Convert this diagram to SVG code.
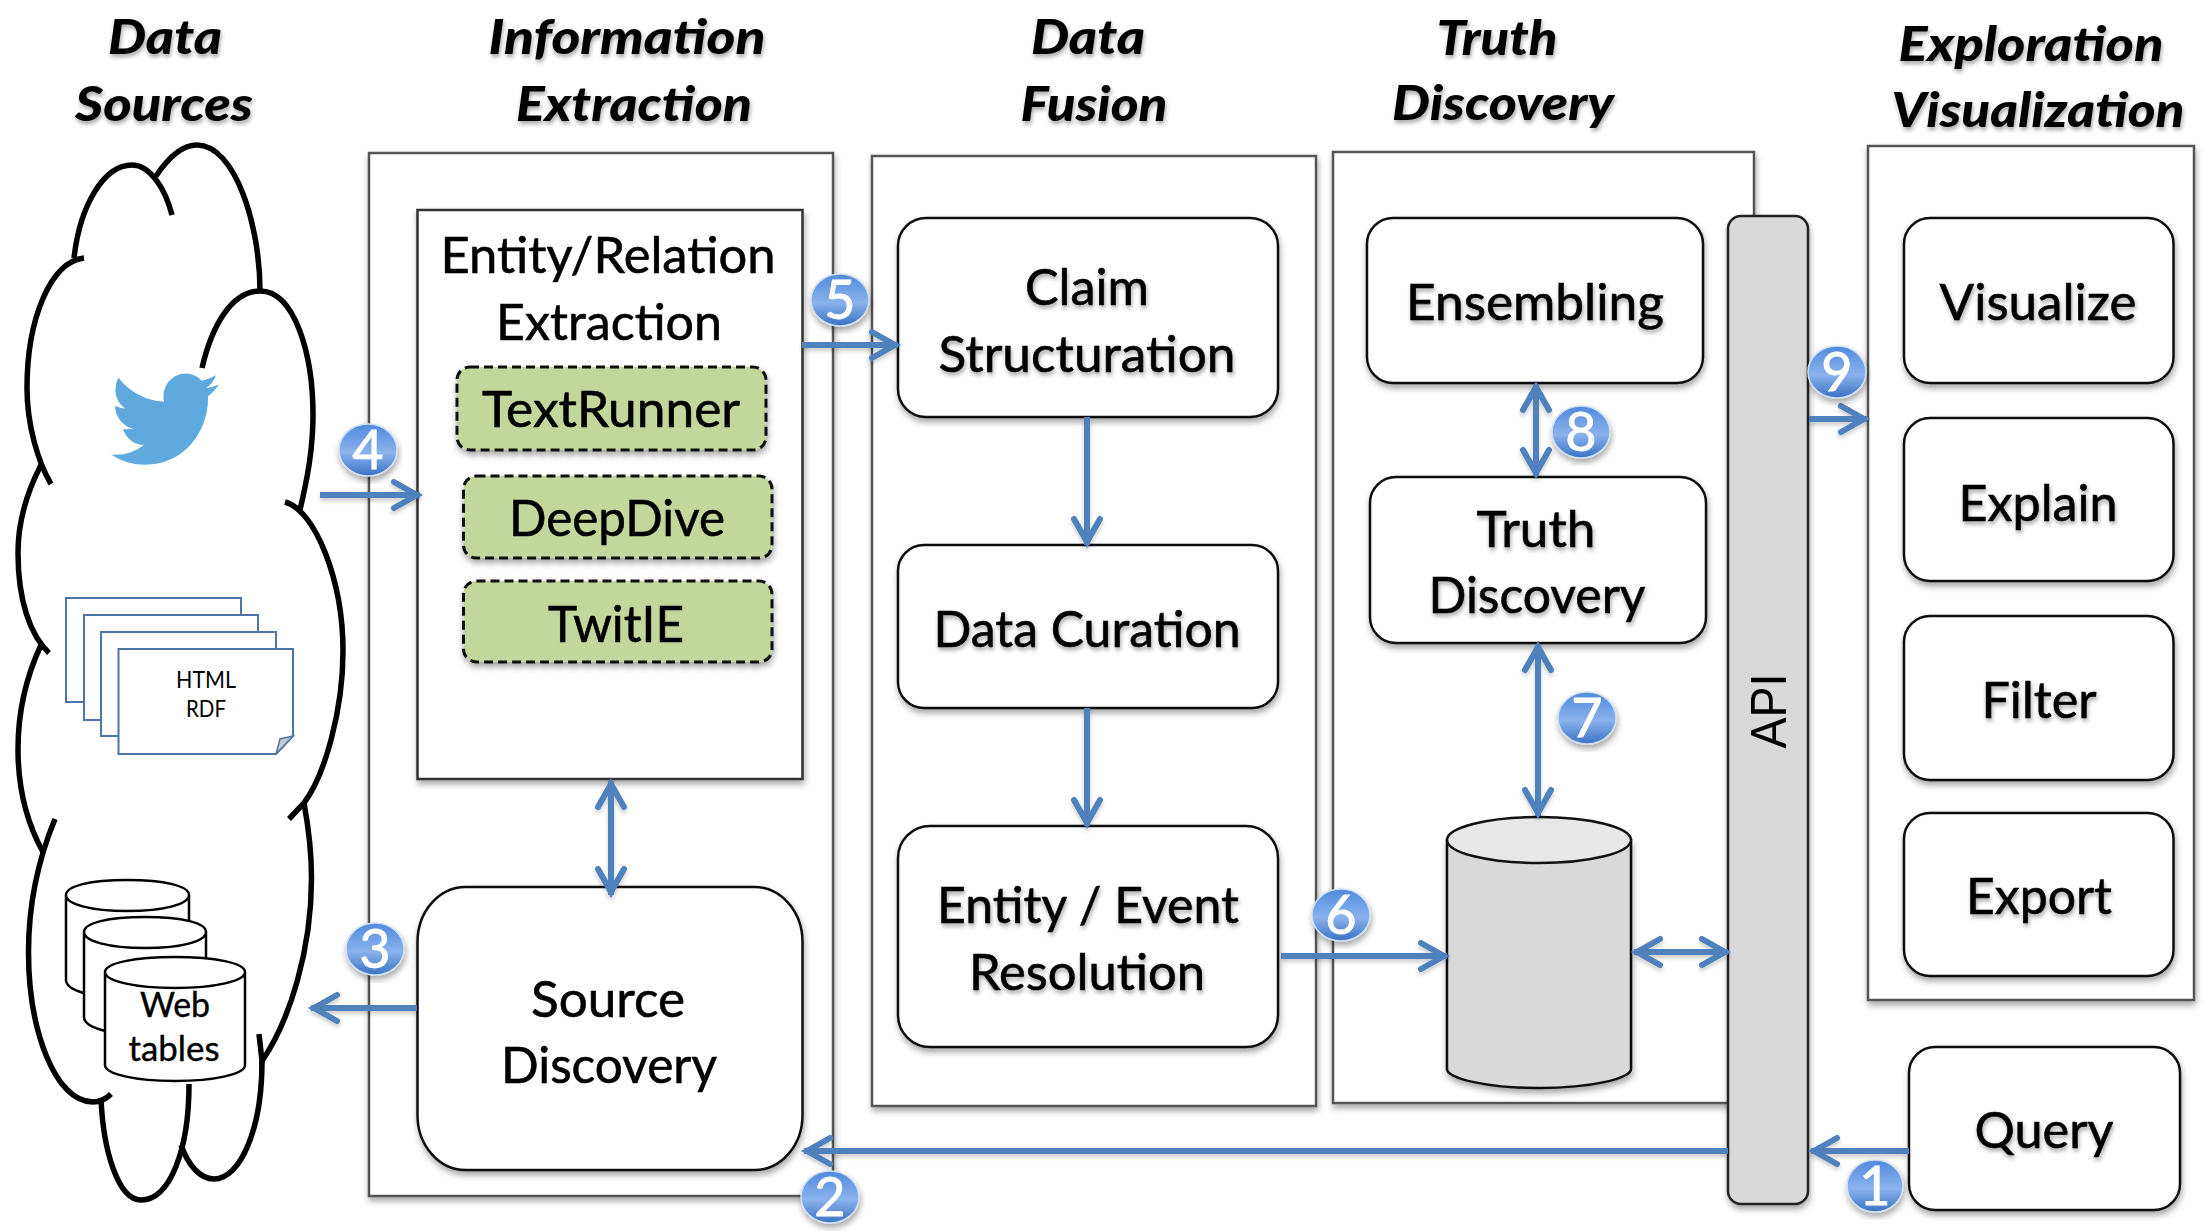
<svg xmlns="http://www.w3.org/2000/svg" width="2210" height="1232" viewBox="0 0 2210 1232">
<style>
text{font-family:"Lato","Carlito","Liberation Sans",sans-serif;fill:#000;text-anchor:middle}
.t{font-size:50px;stroke:#000;stroke-width:.6}
.s{filter:url(#ts)}
.h{font-size:48px;font-weight:900;font-style:italic;filter:url(#ts)}
.panel{fill:#fff;stroke:#555;stroke-width:2.5;filter:url(#bs)}
.box{fill:#fff;stroke:#111;stroke-width:2.5;filter:url(#bs)}
.tool{fill:#c3d69b;stroke:#111;stroke-width:3;stroke-dasharray:9 5;filter:url(#bs)}
.cl{fill:none;stroke:#000;stroke-width:5.5;stroke-linecap:butt}
.pg{fill:#fff;stroke:#4f75a6;stroke-width:2}
.cy{fill:#fff;stroke:#000;stroke-width:2.5}
.cn{fill:none;stroke:#4f81bd;stroke-width:6;filter:url(#cs)}
.one{marker-end:url(#a)}
.two{marker-start:url(#a);marker-end:url(#a)}
.bd ellipse{fill:url(#g);stroke:#cfe0f5;stroke-width:1.5;filter:url(#bs)}
.bd text{font-size:54px;fill:#fff;stroke:#fff;stroke-width:.8}
</style>
<defs>
<filter id="bs" x="-10%" y="-10%" width="120%" height="125%"><feDropShadow dx="1" dy="4" stdDeviation="3" flood-color="#000" flood-opacity=".35"/></filter>
<filter id="ts" x="-10%" y="-20%" width="120%" height="150%"><feDropShadow dx="1" dy="3" stdDeviation="2" flood-color="#000" flood-opacity=".35"/></filter>
<filter id="cs" x="-20%" y="-20%" width="140%" height="140%" filterUnits="userSpaceOnUse"><feDropShadow dx="0" dy="3" stdDeviation="2" flood-color="#000" flood-opacity=".2"/></filter>
<linearGradient id="g" x1="0" y1="0" x2="0" y2="1"><stop offset="0" stop-color="#4f8ade"/><stop offset=".55" stop-color="#8bb2ec"/><stop offset="1" stop-color="#3872c4"/></linearGradient>
<marker id="a" markerUnits="userSpaceOnUse" markerWidth="34" markerHeight="34" refX="30" refY="17" orient="auto-start-reverse" overflow="visible"><path d="M4,4 L27,17 L4,30" fill="none" stroke="#4f81bd" stroke-width="6" stroke-linecap="round"/></marker>
</defs>
<rect width="2210" height="1232" fill="#fff"/>

<g id="titles">
<text class="h" x="165" y="54" textLength="114" lengthAdjust="spacingAndGlyphs">Data</text>
<text class="h" x="164" y="121" textLength="178" lengthAdjust="spacingAndGlyphs">Sources</text>
<text class="h" x="627" y="54" textLength="277" lengthAdjust="spacingAndGlyphs">Information</text>
<text class="h" x="634" y="121" textLength="236" lengthAdjust="spacingAndGlyphs">Extraction</text>
<text class="h" x="1088" y="54" textLength="114" lengthAdjust="spacingAndGlyphs">Data</text>
<text class="h" x="1094" y="121" textLength="147" lengthAdjust="spacingAndGlyphs">Fusion</text>
<text class="h" x="1497" y="55" textLength="121" lengthAdjust="spacingAndGlyphs">Truth</text>
<text class="h" x="1503" y="120" textLength="222" lengthAdjust="spacingAndGlyphs">Discovery</text>
<text class="h" x="2031" y="61" textLength="265" lengthAdjust="spacingAndGlyphs">Exploration</text>
<text class="h" x="2038" y="127" textLength="293" lengthAdjust="spacingAndGlyphs">Visualization</text>
</g>

<g id="panels">
<rect id="panel-extraction" class="panel" x="369" y="153" width="464" height="1043"/>
<rect id="panel-fusion" class="panel" x="872" y="156" width="444" height="950"/>
<rect id="panel-truth" class="panel" x="1333" y="152" width="421" height="951"/>
<rect id="panel-exploration" class="panel" x="1868" y="146" width="326" height="854"/>
</g>

<g id="data-sources">
<g id="cloud">
<path class="cl" d="M74,258 C80,205 104,165 132,165 C150,165 165,188 172,215"/>
<path class="cl" d="M156,176 C168,158 182,145 197,145 C235,145 260,225 260,291"/>
<path class="cl" d="M84,258 C50,262 27,320 27,388 C27,425 38,462 51,484"/>
<path class="cl" d="M202,368 C212,325 232,291 260,291 C295,291 313,355 313,415 C313,450 307,480 300,510"/>
<path class="cl" d="M41,465 C28,490 18,520 18,553 C18,600 30,635 49,653"/>
<path class="cl" d="M41,645 C27,675 18,710 18,749 C18,790 28,825 43,852"/>
<path class="cl" d="M285,502 C315,510 343,580 343,651 C343,710 325,775 304,803 L289,819"/>
<path class="cl" d="M304,803 C309,830 311.500,855 311.500,878 C311.500,950 290,1020 262,1061 L259,1034"/>
<path class="cl" d="M55,819 C38,860 28.500,905 28.500,952 C28.500,1030 55,1102 93,1102 C100,1102 106,1099 111,1094"/>
<path class="cl" d="M101,1098 C103,1150 118,1200 141,1200 C170,1200 189,1150 189,1084"/>
<path class="cl" d="M181,1145 C188,1165 200,1179 214,1179 C240,1179 262,1130 262,1061"/>
</g>
<path id="twitter-bird" transform="translate(111,363) scale(4.5,4.68)" fill="#5ea9dd" d="M23.953 4.57a10 10 0 01-2.825.775 4.958 4.958 0 002.163-2.723c-.951.555-2.005.959-3.127 1.184a4.92 4.92 0 00-8.384 4.482C7.69 8.095 4.067 6.13 1.64 3.162a4.822 4.822 0 00-.666 2.475c0 1.71.87 3.213 2.188 4.096a4.904 4.904 0 01-2.228-.616v.06a4.923 4.923 0 003.946 4.827 4.996 4.996 0 01-2.212.085 4.936 4.936 0 004.604 3.417 9.867 9.867 0 01-6.102 2.105c-.39 0-.779-.023-1.17-.067a13.995 13.995 0 007.557 2.209c9.053 0 13.998-7.496 13.998-13.985 0-.21 0-.42-.015-.63A9.935 9.935 0 0024 4.59z"/>
<g id="documents">
<rect class="pg" x="66" y="598" width="175" height="104"/>
<rect class="pg" x="84" y="615" width="174" height="105"/>
<rect class="pg" x="101" y="632" width="175" height="104"/>
<path class="pg" d="M118.500,649 H293 V736 L276,754 H118.500 Z"/>
<path d="M293,736 L276,754 L280,739 Z" fill="#c5ccd6" stroke="#4f75a6" stroke-width="1.500"/>
<text x="206" y="688" font-size="24" textLength="60" lengthAdjust="spacingAndGlyphs">HTML</text>
<text x="206" y="717" font-size="24" textLength="40" lengthAdjust="spacingAndGlyphs">RDF</text>
</g>
<g id="web-tables">
<path class="cy" d="M66,895 V980 C66,990 90,998 127,998 C165,998 189,990 189,980 V895 C189,886 165,880 127,880 C90,880 66,886 66,895 C66,904 90,911 127,911 C165,911 189,904 189,895"/>
<path class="cy" d="M84,932 V1017 C84,1027 108,1035 145,1035 C183,1035 206,1027 206,1017 V932 C206,923 183,917 145,917 C108,917 84,923 84,932 C84,941 108,948 145,948 C183,948 206,941 206,932"/>
<path class="cy" d="M105,972 V1065 C105,1074 135,1081 175,1081 C215,1081 245,1074 245,1065 V972 C245,963 215,957 175,957 C135,957 105,963 105,972 C105,981 135,988 175,988 C215,988 245,981 245,972"/>
<text x="175" y="1017" font-size="35" textLength="70" lengthAdjust="spacingAndGlyphs" stroke="#000" stroke-width=".4">Web</text>
<text x="174" y="1061" font-size="35" textLength="91" lengthAdjust="spacingAndGlyphs" stroke="#000" stroke-width=".4">tables</text>
</g>
</g>

<g id="entity-relation-extraction">
<rect x="417.500" y="210" width="385" height="569" fill="#fff" stroke="#333" stroke-width="2.500" filter="url(#bs)"/>
<text class="t" x="608" y="273" textLength="335" lengthAdjust="spacingAndGlyphs">Entity/Relation</text>
<text class="t" x="609" y="340" textLength="226" lengthAdjust="spacingAndGlyphs">Extraction</text>
</g>
<g id="textrunner">
<rect class="tool" x="457" y="367" width="309" height="83" rx="13"/>
<text class="t" x="611" y="427" textLength="258" lengthAdjust="spacingAndGlyphs">TextRunner</text>
</g>
<g id="deepdive">
<rect class="tool" x="463.500" y="476" width="308.500" height="82" rx="13"/>
<text class="t" x="617" y="536" textLength="216" lengthAdjust="spacingAndGlyphs">DeepDive</text>
</g>
<g id="twitie">
<rect class="tool" x="463.500" y="581" width="308.500" height="81" rx="13"/>
<text class="t" x="616" y="642" textLength="136" lengthAdjust="spacingAndGlyphs">TwitIE</text>
</g>
<g id="source-discovery">
<rect class="box" x="417.500" y="887" width="385" height="283" rx="48" ry="55"/>
<text class="t" x="608" y="1017" textLength="154" lengthAdjust="spacingAndGlyphs">Source</text>
<text class="t" x="609" y="1083" textLength="216" lengthAdjust="spacingAndGlyphs">Discovery</text>
</g>

<g id="claim-structuration">
<rect class="box" x="898" y="218" width="380" height="199" rx="28" ry="28"/>
<text class="t s" x="1087" y="305" textLength="124" lengthAdjust="spacingAndGlyphs">Claim</text>
<text class="t s" x="1087" y="372" textLength="297" lengthAdjust="spacingAndGlyphs">Structuration</text>
</g>
<g id="data-curation">
<rect class="box" x="898" y="545" width="380" height="163" rx="26" ry="26"/>
<text class="t s" x="1087" y="647" textLength="307" lengthAdjust="spacingAndGlyphs">Data Curation</text>
</g>
<g id="entity-event-resolution">
<rect class="box" x="898" y="826" width="380" height="221" rx="32" ry="32"/>
<text class="t s" x="1088" y="923" textLength="302" lengthAdjust="spacingAndGlyphs">Entity / Event</text>
<text class="t s" x="1087" y="990" textLength="236" lengthAdjust="spacingAndGlyphs">Resolution</text>
</g>

<g id="ensembling">
<rect class="box" x="1367" y="218" width="336" height="165" rx="26" ry="26"/>
<text class="t s" x="1535" y="320" textLength="258" lengthAdjust="spacingAndGlyphs">Ensembling</text>
</g>
<g id="truth-discovery">
<rect class="box" x="1370" y="477" width="336" height="166" rx="26" ry="26"/>
<text class="t s" x="1536" y="547" textLength="119" lengthAdjust="spacingAndGlyphs">Truth</text>
<text class="t s" x="1537" y="613" textLength="217" lengthAdjust="spacingAndGlyphs">Discovery</text>
</g>
<g id="database">
<path d="M1447,840 V1069 C1447,1078 1485,1088 1539,1088 C1593,1088 1631,1078 1631,1069 V840 Z" fill="#d9d9d9" stroke="#111" stroke-width="2.500" filter="url(#bs)"/>
<ellipse cx="1539" cy="840" rx="92" ry="23" fill="#e8e8e8" stroke="#111" stroke-width="2.500"/>
</g>
<g id="api">
<rect x="1728" y="216" width="80" height="988" rx="13" fill="#d9d9d9" stroke="#222" stroke-width="2.500" filter="url(#bs)"/>
<text transform="translate(1786,711) rotate(-90)" style="font-family:'Liberation Sans',sans-serif" font-size="50" textLength="75" lengthAdjust="spacingAndGlyphs">API</text>
</g>

<g id="visualize">
<rect class="box" x="1904" y="218" width="269.500" height="165" rx="26" ry="26"/>
<text class="t s" x="2038" y="320" textLength="197" lengthAdjust="spacingAndGlyphs">Visualize</text>
</g>
<g id="explain">
<rect class="box" x="1904" y="418" width="269.500" height="163" rx="26" ry="26"/>
<text class="t s" x="2038" y="521" textLength="159" lengthAdjust="spacingAndGlyphs">Explain</text>
</g>
<g id="filter">
<rect class="box" x="1904" y="616" width="269.500" height="164" rx="26" ry="26"/>
<text class="t s" x="2039" y="718" textLength="115" lengthAdjust="spacingAndGlyphs">Filter</text>
</g>
<g id="export">
<rect class="box" x="1904" y="813" width="269.500" height="163" rx="26" ry="26"/>
<text class="t s" x="2039" y="914" textLength="146" lengthAdjust="spacingAndGlyphs">Export</text>
</g>
<g id="query">
<rect class="box" x="1909" y="1047" width="271" height="163" rx="26" ry="26"/>
<text class="t s" x="2044" y="1148" textLength="139" lengthAdjust="spacingAndGlyphs">Query</text>
</g>

<g id="connectors">
<path class="cn one" d="M320,495 H420"/>
<path class="cn one" d="M802,345 H898"/>
<path class="cn one" d="M417,1008 H311"/>
<path class="cn two" d="M611,781 V895"/>
<path class="cn one" d="M1087,417 V545"/>
<path class="cn one" d="M1087,708 V826"/>
<path class="cn one" d="M1281,956 H1447"/>
<path class="cn two" d="M1634,952 H1728"/>
<path class="cn two" d="M1538,644 V816"/>
<path class="cn two" d="M1536,384 V476"/>
<path class="cn one" d="M1809,419 H1867"/>
<path class="cn one" d="M1909,1151 H1811"/>
<path class="cn one" d="M1728,1151 H804"/>
</g>

<g id="badges" class="bd">
<g><ellipse cx="1875" cy="1186" rx="28" ry="26"/><text x="1875" y="1205">1</text></g>
<g><ellipse cx="830" cy="1197" rx="29" ry="26"/><text x="830" y="1216">2</text></g>
<g><ellipse cx="375" cy="949" rx="29" ry="26"/><text x="375" y="968">3</text></g>
<g><ellipse cx="368" cy="450" rx="29" ry="26"/><text x="368" y="469">4</text></g>
<g><ellipse cx="840" cy="300" rx="29" ry="26"/><text x="840" y="319">5</text></g>
<g><ellipse cx="1341" cy="915" rx="29" ry="26"/><text x="1341" y="934">6</text></g>
<g><ellipse cx="1587" cy="718" rx="29" ry="26"/><text x="1587" y="737">7</text></g>
<g><ellipse cx="1581" cy="432" rx="29" ry="26"/><text x="1581" y="451">8</text></g>
<g><ellipse cx="1837" cy="372" rx="29" ry="26"/><text x="1837" y="391">9</text></g>
</g>
</svg>
